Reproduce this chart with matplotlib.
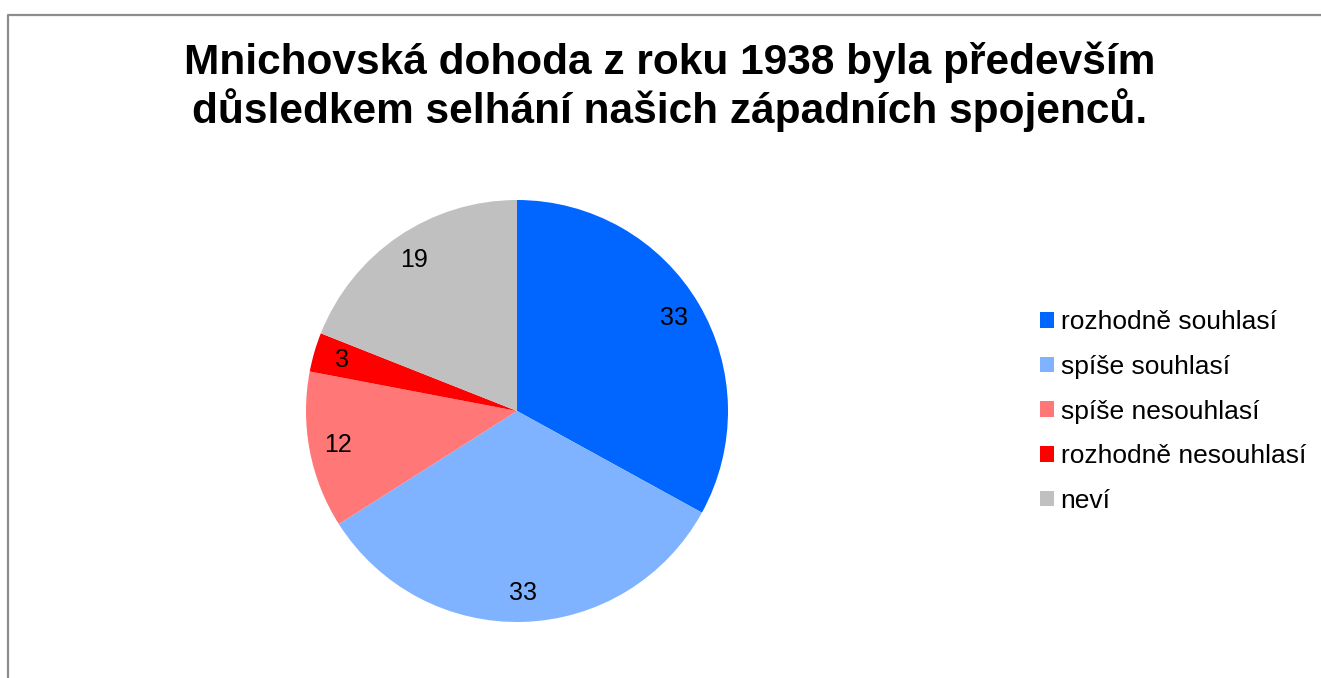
import matplotlib

matplotlib.use("Agg")
import matplotlib.pyplot as plt
from matplotlib.lines import Line2D

plt.rcParams["font.family"] = ["Liberation Sans", "DejaVu Sans"]

TITLE_LINES = [
    "Mnichovská dohoda z roku 1938 byla především",
    "důsledkem selhání našich západních spojenců.",
]
CATEGORIES = [
    "rozhodně souhlasí",
    "spíše souhlasí",
    "spíše nesouhlasí",
    "rozhodně nesouhlasí",
    "neví",
]
VALUES = [33, 33, 12, 3, 19]
COLORS = ["#0066FF", "#80B3FF", "#FF7777", "#FF0000", "#C0C0C0"]

W, H = 1321, 678
fig = plt.figure(figsize=(W / 100, H / 100), dpi=100)

# outer frame (only top and left edges visible in the original crop)
fig.add_artist(Line2D([7.5 / W, 7.5 / W, 1.0], [0.0, 1 - 14.5 / H, 1 - 14.5 / H],
                      transform=fig.transFigure, color="#8C8C8C", linewidth=1.6))

for i, line in enumerate(TITLE_LINES):
    fig.text(670 / W, 1 - (74 + 49 * i) / H, line, ha="center", va="baseline",
             fontsize=30.5, fontweight="bold")

cx, cy, r = 517, 411, 211
ax = fig.add_axes([(cx - r) / W, (H - cy - r) / H, 2 * r / W, 2 * r / H])
wedges, _, autotexts = ax.pie(
    VALUES,
    colors=COLORS,
    startangle=90,
    counterclock=False,
    autopct=lambda p: f"{p * sum(VALUES) / 100:.0f}",
    pctdistance=0.865,
    textprops={"fontsize": 18},
)
ax.set_xlim(-1, 1)
ax.set_ylim(-1, 1)
ax.set_aspect("equal")
ax.axis("off")

fig.legend(
    wedges,
    CATEGORIES,
    loc="center left",
    bbox_to_anchor=(1040 / W, 1 - 411.5 / H),
    frameon=False,
    fontsize=19,
    borderpad=0,
    borderaxespad=0,
    handlelength=0.53,
    handleheight=0.53,
    handletextpad=0.25,
    labelspacing=0.78,
)

fig.savefig("out.png", dpi=100)
